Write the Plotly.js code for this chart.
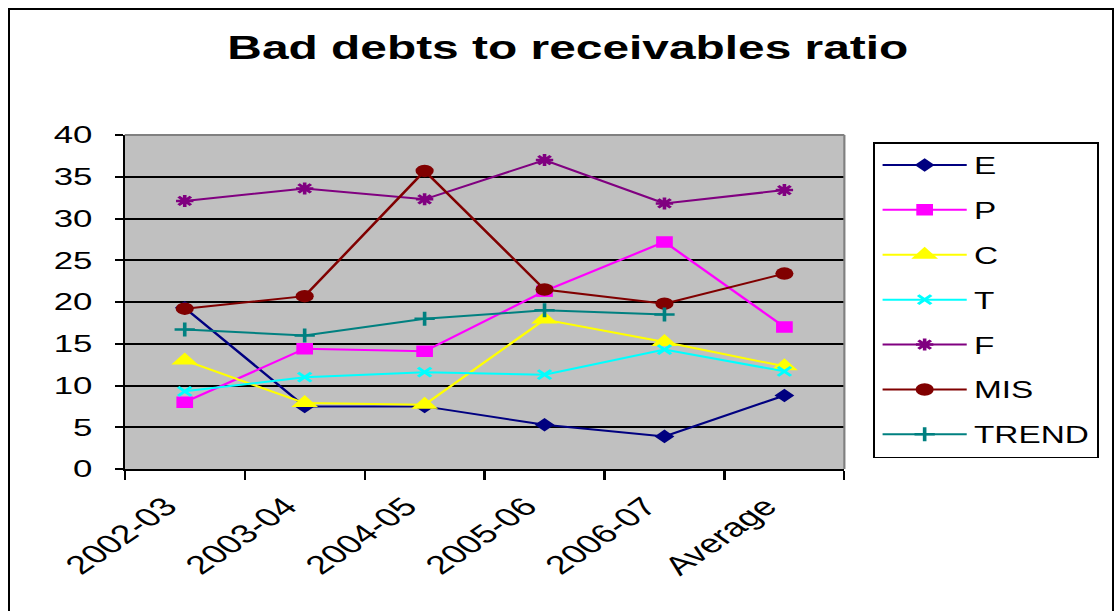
<!DOCTYPE html>
<html>
<head>
<meta charset="utf-8">
<script src="https://cdn.plot.ly/plotly-3.0.1.min.js"></script>
<style>
  html, body { margin: 0; padding: 0; background: #ffffff; overflow: hidden; }
  #wrap { position: relative; width: 1120px; height: 611px; overflow: hidden; }
  /* the chart is laid out narrow and widened horizontally, giving the wide lettering and oval markers */
  #chart { position: absolute; left: 0; top: 0; width: 772px; height: 611px;
           transform: scaleX(1.4508); transform-origin: 0 0; }
  #frame { position: absolute; left: 8px; top: 8px; width: 1102px; height: 620px;
           border: 2px solid #000; pointer-events: none; }
</style>
</head>
<body>
<div id="wrap">
  <div id="chart"></div>
  <div id="frame"></div>
</div>
<script>
// Years plus the average column
const categories = ['2002-03', '2003-04', '2004-05', '2005-06', '2006-07', 'Average'];

// Bad debts to receivables ratio per entity
const seriesE     = [19.3, 7.5, 7.5, 5.3, 3.9, 8.8];
const seriesP     = [8.0, 14.4, 14.1, 21.3, 27.2, 17.0];
const seriesC     = [13.0, 7.9, 7.7, 17.9, 15.2, 12.3];
const seriesT     = [9.3, 11.0, 11.6, 11.3, 14.3, 11.7];
const seriesF     = [32.1, 33.6, 32.3, 37.0, 31.8, 33.4];
const seriesMIS   = [19.2, 20.7, 35.7, 21.5, 19.8, 23.4];
const seriesTREND = [16.7, 16.0, 18.0, 19.0, 18.5, null];

const yTicks = [0, 5, 10, 15, 20, 25, 30, 35, 40];

function line(name, values, color, symbol, size, markerLine) {
  return {
    type: 'scatter', mode: 'lines+markers', name: name,
    x: categories, y: values, legendgroup: name,
    connectgaps: false,
    line: { color: color, width: 2 },
    marker: { symbol: symbol, size: size, color: color,
              line: { color: color, width: markerLine || 0 } }
  };
}

const traces = [
  line('E', seriesE, '#000080', 'diamond', 10.5),
  line('P', seriesP, '#FF00FF', 'square', 11.5),
  line('C', seriesC, '#FFFF00', 'triangle-up', 16),
  line('T', seriesT, '#00FFFF', 'x-thin', 9, 2.5),
  line('F', seriesF, '#800080', 'asterisk', 10, 2.5),
  line('MIS', seriesMIS, '#800000', 'circle', 12.5),
  line('TREND', seriesTREND, '#008080', 'cross-thin', 10, 2.5)
];

const layout = {
  width: 772, height: 611,
  margin: { l: 86, r: 189.6, t: 135, b: 142, pad: 0 },
  paper_bgcolor: 'rgba(0,0,0,0)',
  plot_bgcolor: '#C0C0C0',
  font: { family: 'Liberation Sans, Arial, sans-serif', color: '#000', size: 24 },
  title: {
    text: '<b>Bad debts to receivables ratio</b>',
    font: { family: 'Liberation Sans, Arial, sans-serif', size: 33, color: '#000' },
    x: 0.507, xref: 'container', xanchor: 'center',
    y: 1 - 47 / 611, yref: 'container', yanchor: 'middle'
  },
  xaxis: {
    type: 'category', range: [-0.5, 5.5],
    tickson: 'boundaries', ticks: 'outside', ticklen: 9, tickwidth: 1.5, tickcolor: '#000',
    tickangle: -45, tickfont: { size: 26 },
    ticklabelshift: -13, ticklabelstandoff: 10,
    showgrid: false, zeroline: false,
    showline: true, linecolor: '#000', linewidth: 2
  },
  yaxis: {
    range: [0, 40], tickvals: yTicks, ticktext: yTicks.map(String),
    ticks: 'outside', ticklen: 5, tickwidth: 2, tickcolor: '#000',
    tickfont: { size: 24 }, ticklabelstandoff: 11,
    showgrid: true, gridcolor: '#000', gridwidth: 2,
    zeroline: false, showline: true, linecolor: '#000', linewidth: 1.5
  },
  shapes: [
    { type: 'line', xref: 'paper', yref: 'paper', x0: 0, x1: 1, y0: 1, y1: 1,
      line: { color: '#808080', width: 2 }, layer: 'above' },
    { type: 'line', xref: 'paper', yref: 'paper', x0: 1, x1: 1, y0: 0, y1: 1,
      line: { color: '#808080', width: 1.5 }, layer: 'above' }
  ],
  showlegend: true,
  legend: {
    x: 1.04, xanchor: 'left', y: 0.979, yanchor: 'top',
    bgcolor: '#ffffff', bordercolor: '#000', borderwidth: 1.5,
    font: { size: 23, color: '#000' },
    traceorder: 'grouped', tracegroupgap: 12, itemwidth: 58,
    entrywidth: 116, entrywidthmode: 'pixels'
  }
};

Plotly.newPlot('chart', traces, layout, { displayModeBar: false, staticPlot: true });
</script>
</body>
</html>
